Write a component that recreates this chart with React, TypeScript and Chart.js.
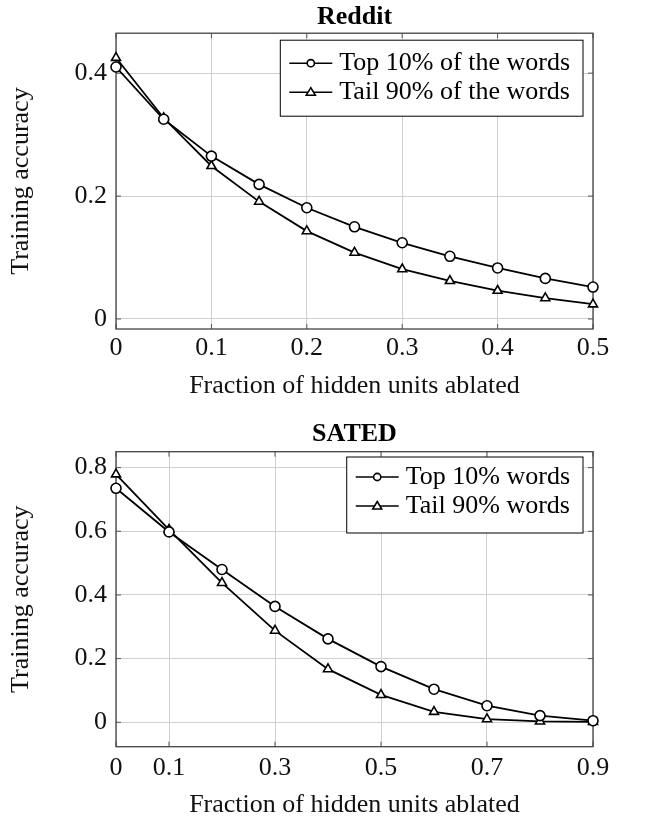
import React, { useEffect, useRef } from "react";
import { Chart, registerables } from "chart.js";
Chart.register(...registerables);

// ---------- data ----------
const redditX = [0, 0.05, 0.1, 0.15, 0.2, 0.25, 0.3, 0.35, 0.4, 0.45, 0.5];
const redditTop = [0.41, 0.325, 0.265, 0.219, 0.181, 0.15, 0.124, 0.102, 0.083, 0.066, 0.052];
const redditTail = [0.425, 0.327, 0.249, 0.191, 0.143, 0.108, 0.081, 0.062, 0.046, 0.034, 0.024];
const redditLabels = ["Top 10% of the words", "Tail 90% of the words"];
const redditXTicks = [0, 0.1, 0.2, 0.3, 0.4, 0.5];
const redditYTicks = [0, 0.2, 0.4];

const satedX = [0, 0.1, 0.2, 0.3, 0.4, 0.5, 0.6, 0.7, 0.8, 0.9];
const satedTop = [0.735, 0.598, 0.48, 0.364, 0.262, 0.175, 0.104, 0.052, 0.021, 0.005];
const satedTail = [0.779, 0.605, 0.438, 0.288, 0.167, 0.086, 0.033, 0.01, 0.003, 0.001];
const satedLabels = ["Top 10% words", "Tail 90% words"];
const satedXTicks = [0, 0.1, 0.3, 0.5, 0.7, 0.9];
const satedYTicks = [0, 0.2, 0.4, 0.6, 0.8];

const xTitle = "Fraction of hidden units ablated";
const yTitle = "Training accuracy";

const FONT = "'Liberation Serif', 'Times New Roman', serif";

const fmt = (v: number) => (v === 0 ? "0" : String(+v.toFixed(2)));

const frameLegendPlugin = {
  id: "frameLegend",
  beforeDatasetsDraw(chart: any, _args: any, opts: any) {
    const { ctx, chartArea: a } = chart;
    const xs = chart.scales.x;
    const ys = chart.scales.y;
    ctx.save();
    ctx.strokeStyle = "#555";
    ctx.lineWidth = 1;
    const seg = (x1: number, y1: number, x2: number, y2: number) => {
      ctx.beginPath();
      ctx.moveTo(x1, y1);
      ctx.lineTo(x2, y2);
      ctx.stroke();
    };
    xs.ticks.forEach((t: any) => {
      const p = xs.getPixelForValue(t.value);
      seg(p, a.bottom, p, a.bottom - 5);
      seg(p, a.top, p, a.top + 5);
    });
    ys.ticks.forEach((t: any) => {
      const p = ys.getPixelForValue(t.value);
      seg(a.left, p, a.left + 5, p);
      seg(a.right, p, a.right - 5, p);
    });
    ctx.strokeStyle = "#444";
    ctx.lineWidth = 1.3;
    ctx.strokeRect(a.left, a.top, a.right - a.left, a.bottom - a.top);
    ctx.restore();
  },
  afterDatasetsDraw(chart: any, _args: any, opts: any) {
    const { ctx, chartArea: a } = chart;
    const ds = chart.data.datasets;
    ctx.save();
    ctx.font = `26px ${FONT}`;
    let maxW = 0;
    ds.forEach((d: any) => {
      maxW = Math.max(maxW, ctx.measureText(d.label).width);
    });
    const w = 9 + 43 + 7 + maxW + 13;
    const h = 76;
    const x0 = a.right - opts.right - w;
    const y0 = a.top + opts.top;
    ctx.fillStyle = "#fff";
    ctx.fillRect(x0, y0, w, h);
    ctx.strokeStyle = "#000";
    ctx.lineWidth = 1;
    ctx.strokeRect(x0, y0, w, h);
    ds.forEach((d: any, i: number) => {
      const cy = y0 + opts.firstRow + i * 29;
      ctx.strokeStyle = "#000";
      ctx.lineWidth = 1.6;
      ctx.beginPath();
      ctx.moveTo(x0 + 9, cy);
      ctx.lineTo(x0 + 52, cy);
      ctx.stroke();
      const cx = x0 + 30.5;
      ctx.fillStyle = "#fff";
      ctx.beginPath();
      if (d.pointStyle === "triangle") {
        ctx.moveTo(cx, cy - 4.5);
        ctx.lineTo(cx + 4.5, cy + 3);
        ctx.lineTo(cx - 4.5, cy + 3);
        ctx.closePath();
      } else {
        ctx.arc(cx, cy, 3.6, 0, Math.PI * 2);
      }
      ctx.fill();
      ctx.stroke();
      ctx.fillStyle = "#000";
      ctx.textBaseline = "middle";
      ctx.textAlign = "left";
      ctx.fillText(d.label, x0 + 59, cy);
    });
    ctx.restore();
  },
};

type PanelProps = {
  title: string;
  xs: number[];
  top: number[];
  tail: number[];
  labels: string[];
  xTicks: number[];
  yTicks: number[];
  yMin: number;
  yMax: number;
  xMax: number;
  height: number;
  titlePadTop: number;
  titlePadBottom: number;
  xAxisHeight: number;
  xTickPad: number;
  xTitlePad: number;
  legendTop: number;
  legendFirstRow: number;
};

function Panel(p: PanelProps) {
  const ref = useRef<HTMLCanvasElement | null>(null);
  useEffect(() => {
    if (!ref.current) return;
    const pointCommon = {
      borderColor: "#000",
      backgroundColor: "#fff",
      borderWidth: 1.8,
      pointBorderWidth: 1.6,
      pointBackgroundColor: "#fff",
      pointBorderColor: "#000",
      showLine: true,
      clip: false as any,
    };
    const chart = new Chart(ref.current, {
      type: "scatter",
      data: {
        datasets: [
          {
            ...pointCommon,
            label: p.labels[0],
            data: p.xs.map((x, i) => ({ x, y: p.top[i] })),
            pointStyle: "circle",
            pointRadius: 5,
          },
          {
            ...pointCommon,
            label: p.labels[1],
            data: p.xs.map((x, i) => ({ x, y: p.tail[i] })),
            pointStyle: "triangle",
            pointRadius: 5.2,
          },
        ],
      },
      options: {
        animation: false,
        responsive: false,
        devicePixelRatio: 1,
        layout: { padding: { left: 0, right: 52, top: 0, bottom: 0 } },
        plugins: {
          legend: { display: false },
          tooltip: { enabled: false },
          title: {
            display: true,
            text: p.title,
            fullSize: false,
            color: "#000",
            font: { family: FONT, size: 26, weight: "bold", lineHeight: 1.2 },
            padding: { top: p.titlePadTop, bottom: p.titlePadBottom },
          },
          frameLegend: { top: p.legendTop, right: 10, firstRow: p.legendFirstRow },
        } as any,
        scales: {
          x: {
            type: "linear",
            min: 0,
            max: p.xMax,
            afterBuildTicks: (s: any) => {
              s.ticks = p.xTicks.map((v) => ({ value: v }));
            },
            afterFit: (s: any) => {
              s.height = p.xAxisHeight;
            },
            grid: { color: "#cfcfcf", lineWidth: 1, drawTicks: false },
            border: { display: false },
            ticks: {
              padding: p.xTickPad,
              color: "#111",
              font: { family: FONT, size: 26, lineHeight: 1.2 },
              maxRotation: 0,
              autoSkip: false,
              callback: (v: any) => fmt(Number(v)),
            },
            title: {
              display: true,
              text: xTitle,
              color: "#111",
              font: { family: FONT, size: 26, lineHeight: 1.2 },
              padding: { top: 0, bottom: p.xTitlePad },
            },
          },
          y: {
            type: "linear",
            min: p.yMin,
            max: p.yMax,
            afterBuildTicks: (s: any) => {
              s.ticks = p.yTicks.map((v) => ({ value: v }));
            },
            afterFit: (s: any) => {
              s.width = 116;
            },
            grid: { color: "#cfcfcf", lineWidth: 1, drawTicks: false },
            border: { display: false },
            ticks: {
              padding: 9,
              color: "#111",
              font: { family: FONT, size: 26, lineHeight: 1.2 },
              autoSkip: false,
              callback: (v: any) => fmt(Number(v)),
            },
            title: {
              display: true,
              text: yTitle,
              color: "#111",
              font: { family: FONT, size: 26, lineHeight: 1.2 },
              padding: { top: 6, bottom: 0 },
            },
          },
        },
      },
      plugins: [frameLegendPlugin as any],
    });
    return () => chart.destroy();
  }, []);
  return (
    <canvas
      ref={ref}
      width={645}
      height={p.height}
      style={{ display: "block", width: 645, height: p.height }}
    />
  );
}

export default function App() {
  return (
    <div style={{ position: "absolute", left: 0, top: 0, width: 645, height: 821, background: "#fff" }}>
      <div style={{ position: "absolute", left: 0, top: 0 }}>
        <Panel
          title="Reddit"
          xs={redditX}
          top={redditTop}
          tail={redditTail}
          labels={redditLabels}
          xTicks={redditXTicks}
          yTicks={redditYTicks}
          yMin={-0.0163}
          yMax={0.465}
          xMax={0.5}
          height={410}
          titlePadTop={2}
          titlePadBottom={0}
          xAxisHeight={81}
          xTickPad={4}
          xTitlePad={8}
          legendTop={7}
          legendFirstRow={23}
        />
      </div>
      <div style={{ position: "absolute", left: 0, top: 410 }}>
        <Panel
          title="SATED"
          xs={satedX}
          top={satedTop}
          tail={satedTail}
          labels={satedLabels}
          xTicks={satedXTicks}
          yTicks={satedYTicks}
          yMin={-0.0767}
          yMax={0.85}
          xMax={0.9}
          height={411}
          titlePadTop={9}
          titlePadBottom={1.5}
          xAxisHeight={74.3}
          xTickPad={6}
          xTitlePad={0}
          legendTop={5.3}
          legendFirstRow={20}
        />
      </div>
    </div>
  );
}
